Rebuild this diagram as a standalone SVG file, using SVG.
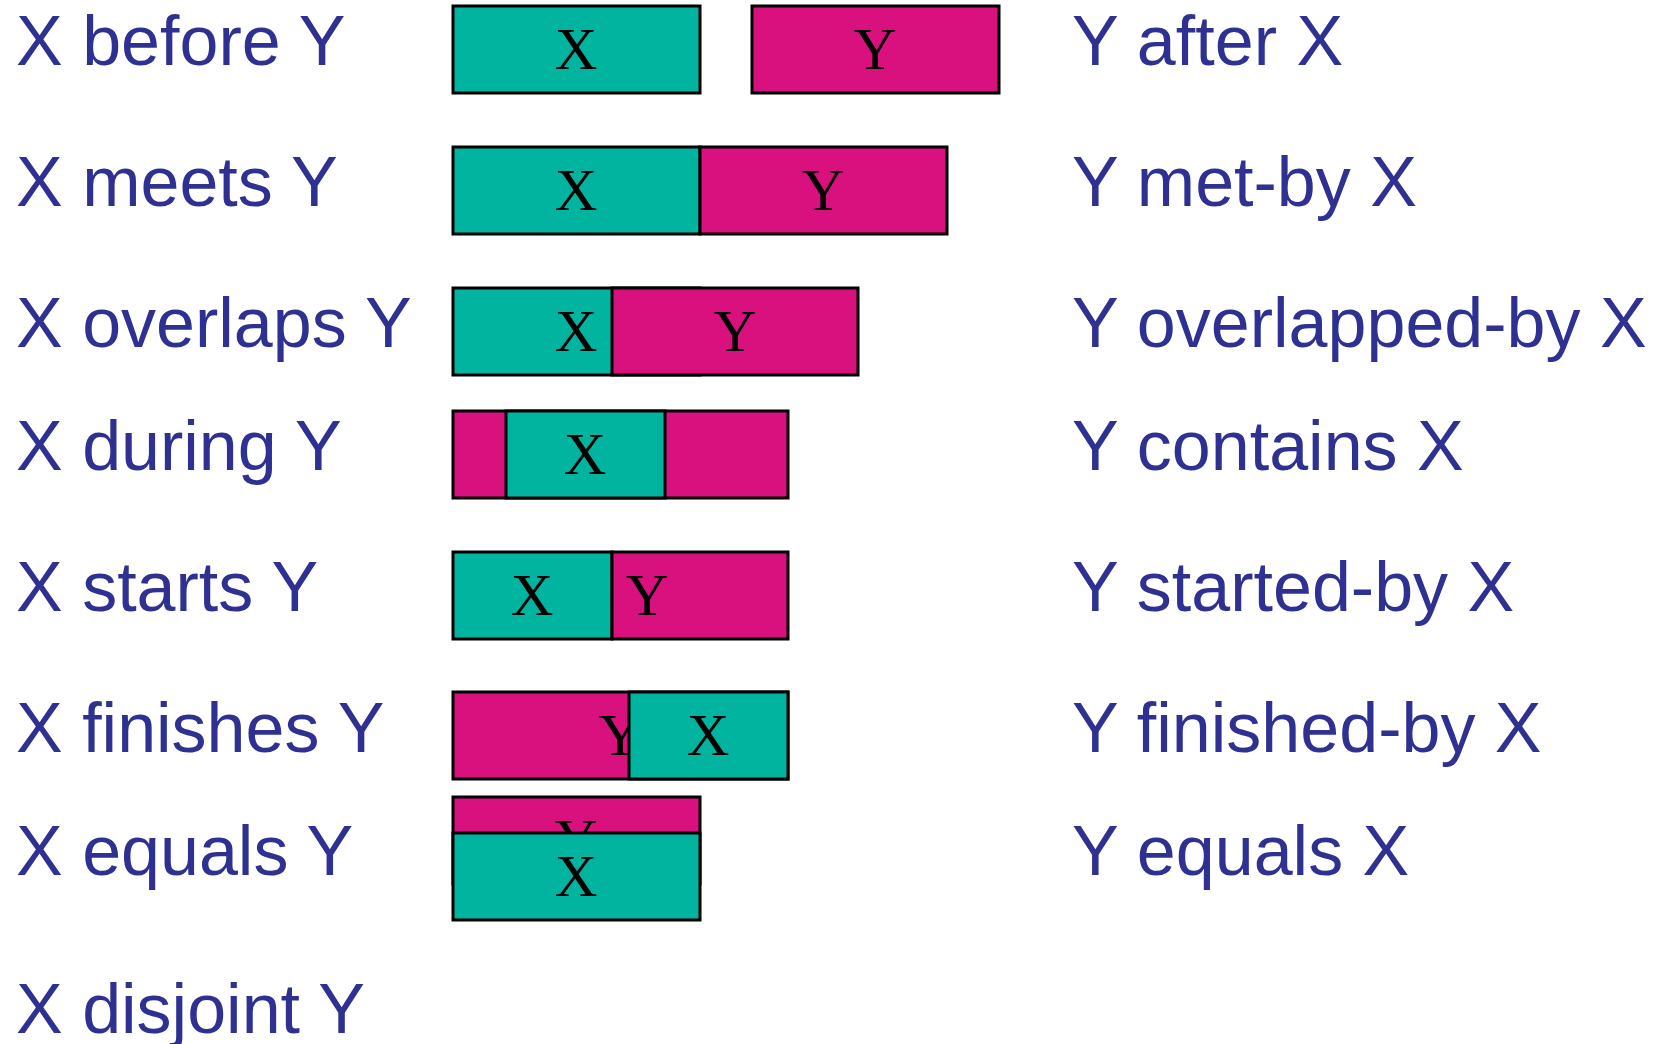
<svg xmlns="http://www.w3.org/2000/svg" width="1663" height="1044" viewBox="0 0 1663 1044">
  <style>
    .lbl { font-family: "Liberation Sans", Arial, sans-serif; font-size: 70px; fill: #2E3192; }
    .bx { fill: #00B4A0; stroke: #000; stroke-width: 3; }
    .by { fill: #D8117F; stroke: #000; stroke-width: 3; }
    .t { font-family: "Liberation Serif", "Times New Roman", serif; font-size: 59px; fill: #000; text-anchor: middle; }
  </style>
  <rect width="1663" height="1044" fill="#fff"/>

  <!-- relation names, left column -->
  <g id="labels-left">
    <text class="lbl" x="16" y="65">X before Y</text>
    <text class="lbl" x="16" y="206">X meets Y</text>
    <text class="lbl" x="16" y="347">X overlaps Y</text>
    <text class="lbl" x="16" y="470">X during Y</text>
    <text class="lbl" x="16" y="611">X starts Y</text>
    <text class="lbl" x="16" y="752">X finishes Y</text>
    <text class="lbl" x="16" y="875">X equals Y</text>
    <text class="lbl" x="16" y="1033">X disjoint Y</text>
  </g>

  <!-- inverse relation names, right column -->
  <g id="labels-right">
    <text class="lbl" x="1072" y="65">Y after X</text>
    <text class="lbl" x="1072" y="206">Y met-by X</text>
    <text class="lbl" x="1072" y="347">Y overlapped-by X</text>
    <text class="lbl" x="1072" y="470">Y contains X</text>
    <text class="lbl" x="1072" y="611">Y started-by X</text>
    <text class="lbl" x="1072" y="752">Y finished-by X</text>
    <text class="lbl" x="1072" y="875">Y equals X</text>
  </g>

  <!-- before -->
  <g id="before">
    <rect class="bx" x="453" y="6" width="247" height="87"/>
    <text class="t" x="576" y="69">X</text>
    <rect class="by" x="752" y="6" width="247" height="87"/>
    <text class="t" x="875" y="69">Y</text>
  </g>

  <!-- meets -->
  <g id="meets">
    <rect class="bx" x="453" y="147" width="247" height="87"/>
    <text class="t" x="576" y="210">X</text>
    <rect class="by" x="700" y="147" width="247" height="87"/>
    <text class="t" x="823" y="210">Y</text>
  </g>

  <!-- overlaps -->
  <g id="overlaps">
    <rect class="bx" x="453" y="288" width="247" height="87"/>
    <text class="t" x="576" y="351">X</text>
    <rect class="by" x="612" y="288" width="246" height="87"/>
    <text class="t" x="735" y="351">Y</text>
  </g>

  <!-- during -->
  <g id="during">
    <rect class="by" x="453" y="411" width="335" height="87"/>
    <rect class="bx" x="506" y="411" width="159" height="87"/>
    <text class="t" x="585" y="474">X</text>
  </g>

  <!-- starts -->
  <g id="starts">
    <rect class="bx" x="453" y="552" width="159" height="87"/>
    <text class="t" x="532" y="615">X</text>
    <rect class="by" x="612" y="552" width="176" height="87"/>
    <text class="t" x="647" y="615">Y</text>
  </g>

  <!-- finishes -->
  <g id="finishes">
    <rect class="by" x="453" y="692" width="335" height="87"/>
    <text class="t" x="620" y="755">Y</text>
    <rect class="bx" x="629" y="692" width="159" height="87"/>
    <text class="t" x="708" y="755">X</text>
  </g>

  <!-- equals -->
  <g id="equals">
    <rect class="by" x="453" y="797" width="247" height="87"/>
    <text class="t" x="576" y="860">Y</text>
    <rect class="bx" x="453" y="833" width="247" height="87"/>
    <text class="t" x="576" y="896">X</text>
  </g>
</svg>
